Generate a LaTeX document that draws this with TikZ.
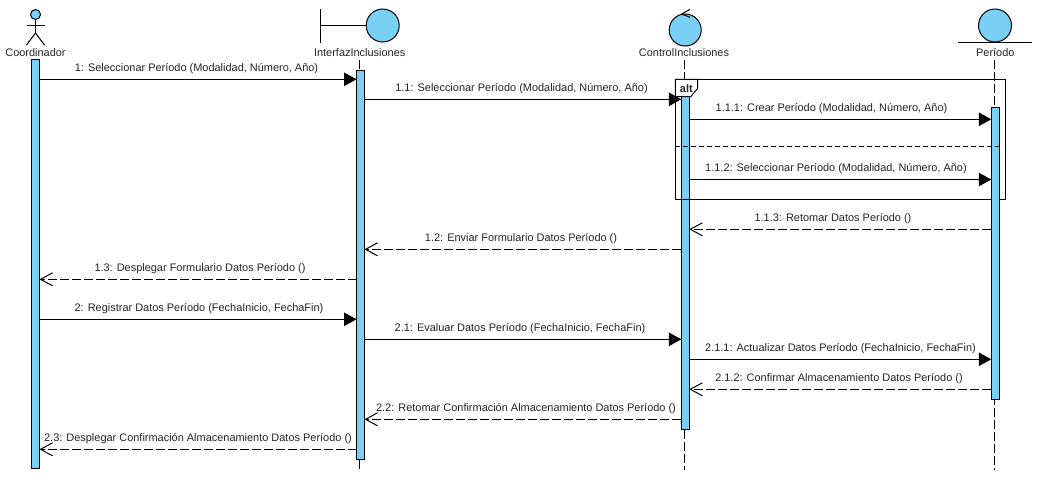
\documentclass[tikz,border=0pt]{standalone}
\usepackage{fontspec}
\setmainfont{Liberation Sans}
\usetikzlibrary{arrows.meta}
\definecolor{barblue}{RGB}{122,207,245}
\definecolor{txt}{RGB}{35,35,35}
\tikzset{
  lbl/.style={font=\fontsize{10.95}{12}\selectfont,text=txt,inner sep=0pt,anchor=base},
  bar/.style={draw=black,fill=barblue,line width=1pt,rectangle,inner sep=0pt,outer sep=0pt,minimum width=8pt,anchor=north west},
  sym/.style={draw=black,line width=1pt},
  ball/.style={draw=black,fill=barblue,line width=1pt,circle,inner sep=0pt,outer sep=0pt},
  life/.style={draw=black,line width=1pt,dash pattern=on 9pt off 3pt},
  syncm/.style={draw=black,line width=1pt,-{Triangle[length=12.5pt,width=13.5pt]}},
  retm/.style={draw=black,line width=1pt,dash pattern=on 9pt off 3pt,-{Straight Barb[length=12pt,width=13pt,line width=1pt]}},
}
\newcommand{\msgline}[7]{%
  \draw[#1] (#3 |- 0,#5) -- (#4 |- 0,#5);
  \node[lbl] (#2) at (#6,#5-8) {#7};}
\begin{document}
\begin{tikzpicture}[x=1pt,y=-1pt]
\useasboundingbox (0,0) rectangle (1042,493);
% actor
\node[ball,minimum size=10pt] (head) at (35.5,14.5) {};
\coordinate (hip) at (35.5,33);
\coordinate (armL) at (26.5,25);
\coordinate (armR) at (44.5,25);
\coordinate (legL) at (26.5,45);
\coordinate (legR) at (44.5,45);
\draw[sym] (head.south) -- (hip);
\draw[sym] (armL) -- (armR);
\draw[sym] (legL) -- (hip) -- (legR);
\node[lbl] (nC) at (35.5,56) {Coordinador};
% boundary
\node[ball,minimum size=33pt] (ballI) at (382.7,25.5) {};
\coordinate (bndT) at (320.5,9);
\coordinate (bndB) at (320.5,43);
\coordinate (bndM) at (320.5,25);
\draw[sym] (bndT) -- (bndB);
\draw[sym] (bndM) -- (ballI.west |- bndM);
\node[lbl] (nI) at (359.7,56) {InterfazInclusiones};
% control
\node[ball,minimum size=32pt] (ballK) at (685.2,30) {};
\coordinate (chvA) at (690,9.3);
\coordinate (chvB) at (681.7,14);
\coordinate (chvC) at (690,17.3);
\draw[sym] (chvA) -- (chvB) -- (chvC);
\node[lbl] (nK) at (684,56) {ControlInclusiones};
% entity
\node[ball,minimum size=33pt] (ballP) at (995,25.5) {};
\coordinate (entL) at (958,42.3);
\coordinate (entR) at (1032,42.3);
\draw[sym] (entL) -- (entR);
\node[lbl] (nP) at (995.3,56) {Período};
% lifelines
\coordinate (lIt) at (359.5,60);
\coordinate (lIb) at (359.5,470);
\coordinate (lKt) at (684.3,60);
\coordinate (lKb) at (684.3,470);
\coordinate (lPt) at (994.3,60);
\coordinate (lPb) at (994.3,470);
\node[bar,minimum height=409pt] (bC) at (31.5,59.5) {};
\node[bar,minimum height=389pt] (bI) at (356.5,70.5) {};
\node[bar,minimum height=333pt] (bK) at (681.3,96.7) {};
\draw[life] (lIt) -- (lIt |- bI.north);
\draw[life] (lIb |- bI.south) -- (lIb);
\draw[life] (lKt) -- (lKt |- 0,79);
\draw[life] (lKb |- bK.south) -- (lKb);
\draw[life] (lPt) -- (lPb);
% alt frame
\coordinate (frTL) at (675.3,79.3);
\coordinate (frBR) at (1005.3,199.3);
\draw[sym] (frTL) rectangle (frBR);
\node[bar,minimum height=292pt] (bP) at (991.3,107.3) {};
\draw[sym,fill=white] (frTL) -- (697.7,79.3) -- (697.7,88.3) -- (690.7,96.7) -- (675.3,96.7) -- cycle;
\node[lbl,font=\fontsize{10.95}{12}\selectfont\bfseries] (alt) at (686.3,92) {alt};
\coordinate (sepL) at (675.3,146.5);
\coordinate (sepR) at (1003,146.5);
\draw[draw=black,line width=1pt,dash pattern=on 5pt off 3pt] (sepL) -- (sepR);
% messages
\msgline{syncm}{m1}{bC.east}{bI.west}{79.3}{196.5}{1: Seleccionar Período (Modalidad, Número, Año)}
\msgline{syncm}{m11}{bI.east}{bK.west}{99.3}{521.5}{1.1: Seleccionar Período (Modalidad, Número, Año)}
\msgline{syncm}{m111}{bK.east}{bP.west}{119.3}{831.5}{1.1.1: Crear Período (Modalidad, Número, Año)}
\msgline{syncm}{m112}{bK.east}{bP.west}{179.5}{836}{1.1.2: Seleccionar Período (Modalidad, Número, Año)}
\msgline{retm}{m113}{bP.west}{bK.east}{229.3}{833}{1.1.3: Retomar Datos Período ()}
\msgline{retm}{m12}{bK.west}{bI.east}{249.3}{521}{1.2: Enviar Formulario Datos Período ()}
\msgline{retm}{m13}{bI.west}{bC.east}{279.3}{200}{1.3: Desplegar Formulario Datos Período ()}
\msgline{syncm}{m2}{bC.east}{bI.west}{319.3}{199}{2: Registrar Datos Período (FechaInicio, FechaFin)}
\msgline{syncm}{m21}{bI.east}{bK.west}{339.3}{520}{2.1: Evaluar Datos Período (FechaInicio, FechaFin)}
\msgline{syncm}{m211}{bK.east}{bP.west}{359.3}{840.5}{2.1.1: Actualizar Datos Período (FechaInicio, FechaFin)}
\msgline{retm}{m212}{bP.west}{bK.east}{389.3}{839}{2.1.2: Confirmar Almacenamiento Datos Período ()}
\msgline{retm}{m22}{bK.west}{bI.east}{419.3}{526}{2.2: Retomar Confirmación Almacenamiento Datos Período ()}
\msgline{retm}{m23}{bI.west}{bC.east}{449.3}{198}{2.3: Desplegar Confirmación Almacenamiento Datos Período ()}
\end{tikzpicture}
\end{document}
